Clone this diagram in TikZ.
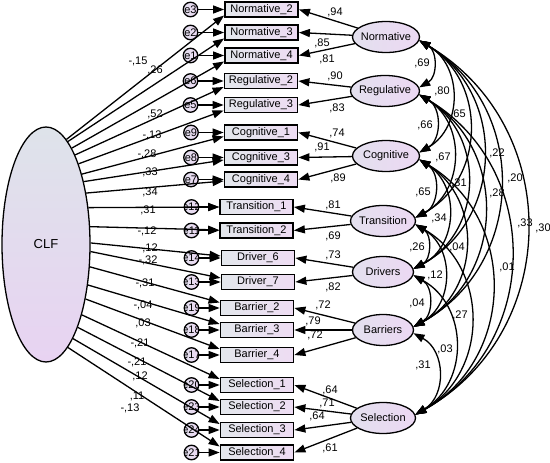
\documentclass[tikz,border=0pt]{standalone}
\usepackage{fontspec}
\setmainfont{Liberation Sans}
\usetikzlibrary{arrows.meta, shapes.geometric}
\definecolor{cajaizq}{HTML}{E3E7EC}
\definecolor{cajader}{HTML}{EEDCF3}
\definecolor{latizq}{HTML}{E3E0EE}
\definecolor{latder}{HTML}{ECD8F3}
\definecolor{clfarriba}{HTML}{DEE3EA}
\definecolor{clfabajo}{HTML}{E8D3F2}
\newcommand{\etq}[1]{\makebox[0pt]{#1}}

\begin{document}
\begin{tikzpicture}[x=1pt, y=-1pt, font=\fontsize{11}{13}\selectfont,
			caja/.style={rectangle, draw, line width=1.8pt, left color=cajaizq, right color=cajader,
			             minimum width=73pt, minimum height=15pt, inner sep=0pt},
			latente/.style={ellipse, draw, line width=1.3pt, left color=latizq, right color=latder,
			                minimum width=67pt, minimum height=31pt, inner sep=0pt},
			comun/.style={ellipse, draw, line width=1.3pt, top color=clfarriba, bottom color=clfabajo,
			              minimum width=88pt, minimum height=235pt, inner sep=0pt},
			residuo/.style={circle, draw, line width=1.3pt, left color=latizq, right color=latder,
			                minimum size=14.5pt, inner sep=0pt,
			                path picture={\node at (path picture bounding box.center) {#1};}},
			flecha/.style={-{Triangle[length=11pt, width=8pt]}, line width=1.3pt},
			cov/.style={{Triangle[length=11pt, width=8pt]}-{Triangle[length=11pt, width=8pt]},
			            line width=1.3pt, bend left=60, looseness=1.15},
			coef/.style={inner sep=0pt}]
			\useasboundingbox (0,0) rectangle (550,463);
			\node[comun] (clf) at (46,244.5) {\fontsize{13}{15}\selectfont CLF};
			\node[caja] (n2) at (261.5,9.5) {Normative\_2};
			\node[caja] (n3) at (261.5,32.5) {Normative\_3};
			\node[caja] (n4) at (261.5,55.5) {Normative\_4};
			\node[caja] (r2) at (261,81) {Regulative\_2};
			\node[caja] (r3) at (261,105) {Regulative\_3};
			\node[caja] (c1) at (261,132.5) {Cognitive\_1};
			\node[caja] (c3) at (261,157.5) {Cognitive\_3};
			\node[caja] (c4) at (261,179.5) {Cognitive\_4};
			\node[caja] (t1) at (256.5,207) {Transition\_1};
			\node[caja] (t2) at (256.5,230.5) {Transition\_2};
			\node[caja] (d6) at (258,258) {Driver\_6};
			\node[caja] (d7) at (258,282) {Driver\_7};
			\node[caja] (b2) at (257,308) {Barrier\_2};
			\node[caja] (b3) at (257,330) {Barrier\_3};
			\node[caja] (b4) at (257,355) {Barrier\_4};
			\node[caja] (s1) at (257,385) {Selection\_1};
			\node[caja] (s2) at (257,407) {Selection\_2};
			\node[caja] (s3) at (257,430) {Selection\_3};
			\node[caja] (s4) at (257,452.5) {Selection\_4};
			\node[residuo=e3] (e3) at (190.5,9.5) {};
			\node[residuo=e2] (e2) at (190.5,32.5) {};
			\node[residuo=e1] (e1) at (190.5,55.5) {};
			\node[residuo=e6] (e6) at (190.5,81) {};
			\node[residuo=e5] (e5) at (190.5,105) {};
			\node[residuo=e9] (e9) at (191,132.5) {};
			\node[residuo=e8] (e8) at (191,157.5) {};
			\node[residuo=e7] (e7) at (191,179.5) {};
			\node[residuo=e12] (e12) at (191.5,207) {};
			\node[residuo=e11] (e11) at (191.5,230.5) {};
			\node[residuo=e14] (e14) at (191.5,258) {};
			\node[residuo=e13] (e13) at (191.5,282) {};
			\node[residuo=e19] (e19) at (191.5,308) {};
			\node[residuo=e18] (e18) at (191.5,330) {};
			\node[residuo=e17] (e17) at (191.5,355) {};
			\node[residuo=e20] (e20) at (191.5,385) {};
			\node[residuo=e23] (e23) at (191.5,407) {};
			\node[residuo=e24] (e24) at (191.5,430) {};
			\node[residuo=e21] (e21) at (191.5,452.5) {};
			\node[latente] (nor) at (386,37) {\etq{Normative}};
			\node[latente, minimum width=69pt] (reg) at (385,91) {\etq{Regulative}};
			\node[latente] (cog) at (386,156) {\etq{Cognitive}};
			\node[latente, minimum width=65pt] (tra) at (383,221) {\etq{Transition}};
			\node[latente, minimum width=61pt] (dri) at (383,272) {\etq{Drivers}};
			\node[latente, minimum width=61pt] (bar) at (383,330) {\etq{Barriers}};
			\node[latente, minimum width=65pt] (sel) at (383,418) {\etq{Selection}};
			\draw[flecha] (e3) -- (n2);
			\draw[flecha] (e2) -- (n3);
			\draw[flecha] (e1) -- (n4);
			\draw[flecha] (e6) -- (r2);
			\draw[flecha] (e5) -- (r3);
			\draw[flecha] (e9) -- (c1);
			\draw[flecha] (e8) -- (c3);
			\draw[flecha] (e7) -- (c4);
			\draw[flecha] (e12) -- (t1);
			\draw[flecha] (e11) -- (t2);
			\draw[flecha] (e14) -- (d6);
			\draw[flecha] (e13) -- (d7);
			\draw[flecha] (e19) -- (b2);
			\draw[flecha] (e18) -- (b3);
			\draw[flecha] (e17) -- (b4);
			\draw[flecha] (e20) -- (s1);
			\draw[flecha] (e23) -- (s2);
			\draw[flecha] (e24) -- (s3);
			\draw[flecha] (e21) -- (s4);
			\draw[flecha] (clf.79.5) -- ([yshift=-6pt]n2.west) node[coef] at (138,61) {-,15};
			\draw[flecha] (clf.78) -- ([yshift=-6pt]n3.west) node[coef] at (155,70) {,26};
			\draw[flecha] (clf.75.8) -- ([yshift=-6pt]n4.west) node[coef] at (155,114) {,52};
			\draw[flecha] (clf.72.7) -- ([yshift=-6pt]r2.west) node[coef] at (152,135) {-,13};
			\draw[flecha] (clf.68.1) -- ([yshift=-5.5pt]r3.west) node[coef] at (147,154) {-,28};
			\draw[flecha] (clf.63.2) -- ([yshift=-4pt]c1.west) node[coef] at (150,172) {,33};
			\draw[flecha] (clf.59) -- ([yshift=-2.5pt]c3.west) node[coef] at (150,192) {,34};
			\draw[flecha] (clf.52.9) -- ([yshift=-1.5pt]c4.west) node[coef] at (148,210) {,31};
			\draw[flecha] (clf.41.6) -- (t1.west) node[coef] at (147,231) {-,12};
			\draw[flecha] (clf.22.5) -- ([yshift=0.5pt]t2.west) node[coef] at (150,248) {,12};
			\draw[flecha] (clf.2.6) -- ([yshift=2pt]d6.west) node[coef] at (148,260) {-,32};
			\draw[flecha] (clf.-9.1) -- ([yshift=4pt]d7.west) node[coef] at (145,283) {-,31};
			\draw[flecha] (clf.-27) -- ([yshift=5.5pt]b2.west) node[coef] at (143,305) {-,04};
			\draw[flecha] (clf.-44) -- ([yshift=6pt]b3.west) node[coef] at (143,323) {,03};
			\draw[flecha] (clf.-54.8) -- ([yshift=6pt]b4.west) node[coef] at (140,343) {-,21};
			\draw[flecha] (clf.-63.2) -- ([yshift=6pt]s1.west) node[coef] at (137,362) {-,21};
			\draw[flecha] (clf.-69.5) -- ([yshift=6pt]s2.west) node[coef] at (140,376) {,12};
			\draw[flecha] (clf.-74) -- ([yshift=6pt]s3.west) node[coef] at (137,396) {,11};
			\draw[flecha] (clf.-78) -- ([yshift=6pt]s4.west) node[coef] at (130,408) {-,13};
			\draw[flecha] (nor) -- (n2.east) node[coef] at (335,12) {,94};
			\draw[flecha] (nor) -- (n3.east) node[coef] at (322,43) {,85};
			\draw[flecha] (nor) -- (n4.east) node[coef] at (327,59) {,81};
			\draw[flecha] (reg) -- (r2.east) node[coef] at (335,76) {,90};
			\draw[flecha] (reg) -- (r3.east) node[coef] at (337,108) {,83};
			\draw[flecha] (cog) -- (c1.east) node[coef] at (337,133) {,74};
			\draw[flecha] (cog) -- (c3.east) node[coef] at (322,147) {,91};
			\draw[flecha] (cog) -- (c4.east) node[coef] at (338,178) {,89};
			\draw[flecha] (tra) -- (t1.east) node[coef] at (333,205) {,81};
			\draw[flecha] (tra) -- (t2.east) node[coef] at (333,236) {,69};
			\draw[flecha] (dri) -- (d6.east) node[coef] at (333,255) {,73};
			\draw[flecha] (dri) -- (d7.east) node[coef] at (333,287) {,82};
			\draw[flecha] (bar) -- (b2.east) node[coef] at (323,305) {,72};
			\draw[flecha] (bar) -- (b3.east) node[coef] at (313,321) {,79};
			\draw[flecha] (bar) -- (b4.east) node[coef] at (315,335) {,72};
			\draw[flecha] (sel) -- (s1.east) node[coef] at (330,390) {,64};
			\draw[flecha] (sel) -- (s2.east) node[coef] at (327,403) {,71};
			\draw[flecha] (sel) -- (s3.east) node[coef] at (317,416) {,64};
			\draw[flecha] (sel) -- (s4.east) node[coef] at (330,448) {,61};
			\draw[cov] (nor.-6) to (reg.6) node[coef] at (422,63) {,69};
			\draw[cov] (nor.-6) to (cog.6) node[coef] at (442,91) {,80};
			\draw[cov] (nor.-6) to (tra.6) node[coef] at (458,114) {,65};
			\draw[cov] (nor.-6) to (dri.6) node[coef] at (497,153) {,22};
			\draw[cov] (nor.-6) to (bar.6) node[coef] at (515,178) {,20};
			\draw[cov] (nor.-6) to (sel.6) node[coef] at (543,228) {,30};
			\draw[cov] (reg.-6) to (cog.6) node[coef] at (425,125) {,66};
			\draw[cov] (reg.-6) to (tra.6) node[coef] at (443,157) {,67};
			\draw[cov] (reg.-6) to (dri.6) node[coef] at (459,183) {,31};
			\draw[cov] (reg.-6) to (bar.6) node[coef] at (497,193) {,28};
			\draw[cov] (reg.-6) to (sel.6) node[coef] at (525,223) {,33};
			\draw[cov] (cog.-6) to (tra.6) node[coef] at (423,192) {,65};
			\draw[cov] (cog.-6) to (dri.6) node[coef] at (439,218) {,34};
			\draw[cov] (cog.-6) to (bar.6) node[coef] at (457,247) {,04};
			\draw[cov] (cog.-6) to (sel.6) node[coef] at (507,267) {,01};
			\draw[cov] (tra.-6) to (dri.6) node[coef] at (417,247) {,26};
			\draw[cov] (tra.-6) to (bar.6) node[coef] at (435,275) {,12};
			\draw[cov] (tra.-6) to (sel.6) node[coef] at (460,315) {,27};
			\draw[cov] (dri.-6) to (bar.6) node[coef] at (417,303) {,04};
			\draw[cov] (dri.-6) to (sel.6) node[coef] at (445,349) {,03};
			\draw[cov] (bar.-6) to (sel.6) node[coef] at (423,365) {,31};
		\end{tikzpicture}
\end{document}
